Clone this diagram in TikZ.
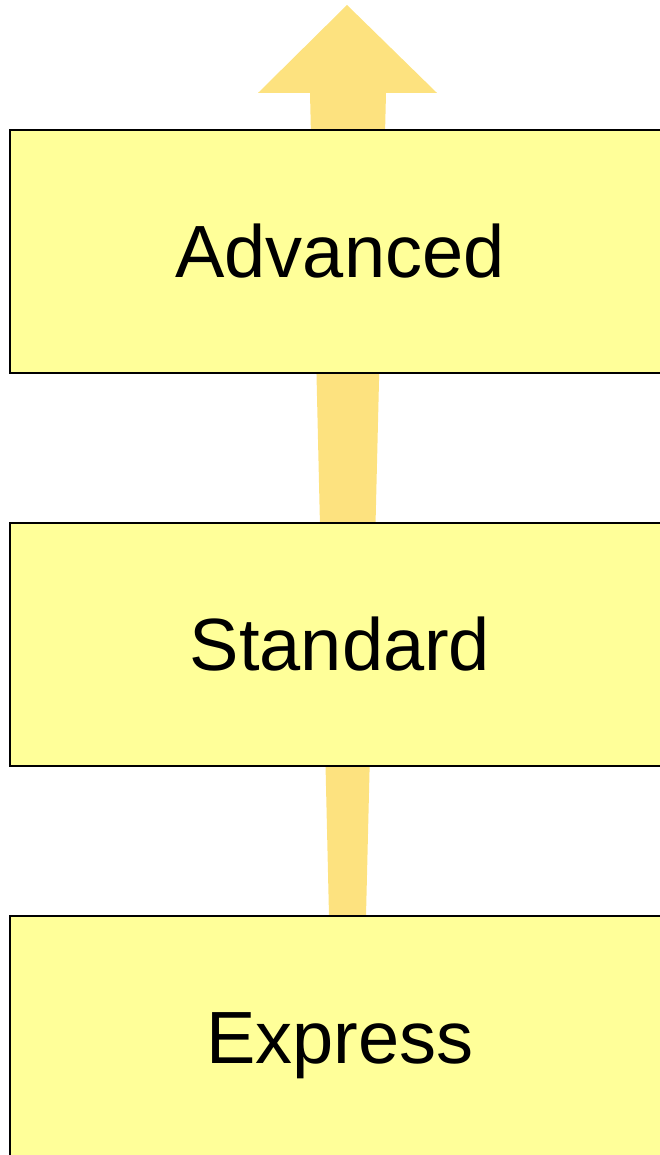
\documentclass[tikz,border=0pt]{standalone}
\usepackage{fontspec}
\setmainfont{Liberation Sans}
\usetikzlibrary{positioning,calc,backgrounds}

\definecolor{boxfill}{HTML}{FFFF99}
\definecolor{arrowfill}{HTML}{FDE27F}

\tikzset{
  level/.style={draw, line width=1pt, fill=boxfill, inner sep=0pt, outer sep=0pt,
    minimum width=330pt, minimum height=121.5pt,
    text height=26.5pt, text depth=0pt, font=\fontsize{37}{44}\selectfont},
}

\begin{document}
\begin{tikzpicture}[x=0.5pt,y=0.5pt]
\useasboundingbox (0,0) rectangle (659,1155);

\node[level] (advanced) at (340,903.5) {Advanced};
\node[level, below=75pt of advanced] (standard) {Standard};
\node[level, below=75pt of standard] (express) {Express};

% upgrade arrow behind the boxes
\begin{scope}[on background layer]
\fill[arrowfill] ($(express.north)+(-11,0)$) -- ($(express.north)+(26,0)$)
  -- ($(advanced.north)+(46,37)$) -- ($(advanced.north)+(97,37)$)
  -- ($(advanced.north)+(7,125)$)
  -- ($(advanced.north)+(-82,37)$) -- ($(advanced.north)+(-30,37)$) -- cycle;
\end{scope}
\end{tikzpicture}
\end{document}
